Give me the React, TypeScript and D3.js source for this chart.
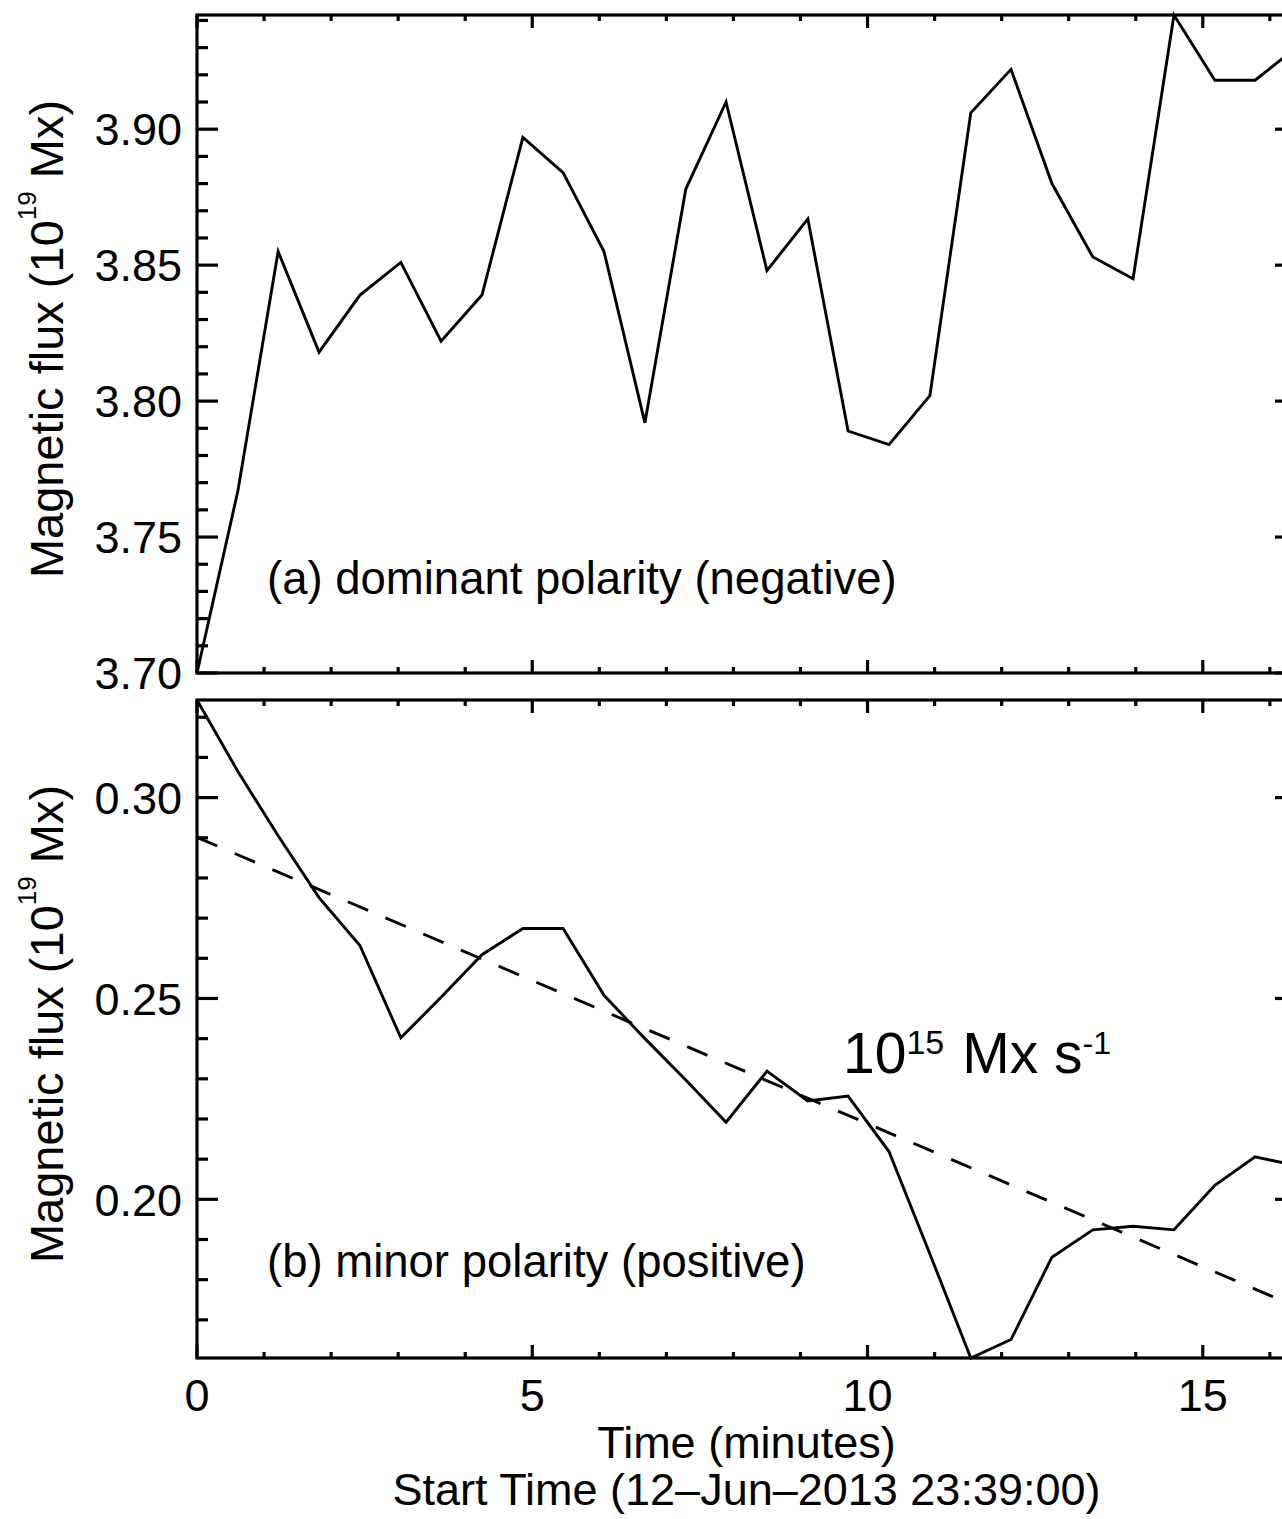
import React from "react";
import * as d3 from "d3";

// ---- data ----
const times = [0, 0.61, 1.21, 1.82, 2.43, 3.04, 3.64, 4.25, 4.86, 5.46, 6.07, 6.68, 7.29, 7.89,
  8.50, 9.11, 9.71, 10.32, 10.93, 11.54, 12.14, 12.75, 13.36, 13.96, 14.57, 15.18, 15.78, 16.39];

const dominantFlux = [3.700, 3.767, 3.855, 3.818, 3.839, 3.851, 3.822, 3.839, 3.897, 3.884,
  3.855, 3.792, 3.878, 3.910, 3.848, 3.867, 3.789, 3.784, 3.802, 3.906, 3.922, 3.880, 3.853,
  3.845, 3.942, 3.918, 3.918, 3.930];

const minorFlux = [0.3243, 0.3065, 0.2905, 0.2751, 0.2632, 0.2402, 0.2503, 0.2609, 0.2674,
  0.2674, 0.2508, 0.2400, 0.2297, 0.2192, 0.2319, 0.2245, 0.2257, 0.2119, 0.1864, 0.1605,
  0.1651, 0.1856, 0.1924, 0.1933, 0.1924, 0.2035, 0.2106, 0.2084];

const fitTimes = [0, 16.39];
const fitValues = [0.2901, 0.1733];

const xMajorTicks = [0, 5, 10, 15];
const xMinorTicks = [1, 2, 3, 4, 6, 7, 8, 9, 11, 12, 13, 14, 16];
const topMajorTicks = [3.70, 3.75, 3.80, 3.85, 3.90];
const topMinorTicks = [3.71, 3.72, 3.73, 3.74, 3.76, 3.77, 3.78, 3.79, 3.81, 3.82, 3.83, 3.84,
  3.86, 3.87, 3.88, 3.89, 3.91, 3.92, 3.93, 3.94];
const botMajorTicks = [0.20, 0.25, 0.30];
const botMinorTicks = [0.17, 0.18, 0.19, 0.21, 0.22, 0.23, 0.24, 0.26, 0.27, 0.28, 0.29, 0.31, 0.32];

const topDomain = [3.700, 3.942];
const botDomain = [0.1605, 0.3243];

const FONT = "'Liberation Sans', Arial, Helvetica, sans-serif";

type Panel = {
  y0: number; y1: number; domain: number[]; major: number[]; minor: number[];
  values: number[]; label: string; labelY: number; titleY: number;
};

export default function App() {
  const X0 = 197, X1 = 1296;
  const x = d3.scaleLinear().domain([0, 16.39]).range([X0, X1]);

  const panels: Panel[] = [
    { y0: 15, y1: 673, domain: topDomain, major: topMajorTicks, minor: topMinorTicks,
      values: dominantFlux, label: "(a) dominant polarity (negative)", labelY: 594, titleY: 339 },
    { y0: 700, y1: 1358, domain: botDomain, major: botMajorTicks, minor: botMinorTicks,
      values: minorFlux, label: "(b) minor polarity (positive)", labelY: 1277, titleY: 1024 },
  ];

  const sw = 3.2;
  const fmt = d3.format(".2f");

  return (
    <svg width={1282} height={1519} style={{ position: "absolute", left: 0, top: 0, background: "#fff" }}
      fontFamily={FONT}>
      <rect x={0} y={0} width={1282} height={1519} fill="#fff" />
      {panels.map((p, pi) => {
        const y = d3.scaleLinear().domain(p.domain).range([p.y1, p.y0]);
        const line = d3.line<number>().x((_, i) => x(times[i])).y((v) => y(v));
        return (
          <g key={pi}>
            <path d={line(p.values) || ""} fill="none" stroke="#000" strokeWidth={2.9} strokeLinejoin="miter" />
            {pi === 1 && (
              <path
                d={d3.line<number>().x((_, i) => x(fitTimes[i])).y((v) => y(v))(fitValues) || ""}
                fill="none" stroke="#000" strokeWidth={2.9} strokeDasharray="22 19" />
            )}
            {/* frame */}
            <rect x={X0} y={p.y0} width={X1 - X0} height={p.y1 - p.y0} fill="none" stroke="#000" strokeWidth={sw} />
            {/* y ticks */}
            {p.major.map((t) => (
              <g key={"M" + t}>
                <line x1={X0} x2={X0 + 21} y1={y(t)} y2={y(t)} stroke="#000" strokeWidth={sw} />
                <line x1={X1} x2={X1 - 21} y1={y(t)} y2={y(t)} stroke="#000" strokeWidth={sw} />
                <text x={182} y={y(t)} dy="0.36em" textAnchor="end" fontSize={45}>{fmt(t)}</text>
              </g>
            ))}
            {p.minor.map((t) => (
              <g key={"m" + t}>
                <line x1={X0} x2={X0 + 11} y1={y(t)} y2={y(t)} stroke="#000" strokeWidth={sw} />
                <line x1={X1} x2={X1 - 11} y1={y(t)} y2={y(t)} stroke="#000" strokeWidth={sw} />
              </g>
            ))}
            {/* x ticks */}
            {xMajorTicks.map((t) => (
              <g key={"xM" + t}>
                <line x1={x(t)} x2={x(t)} y1={p.y1} y2={p.y1 - 13} stroke="#000" strokeWidth={sw} />
                <line x1={x(t)} x2={x(t)} y1={p.y0} y2={p.y0 + 13} stroke="#000" strokeWidth={sw} />
              </g>
            ))}
            {xMinorTicks.map((t) => (
              <g key={"xm" + t}>
                <line x1={x(t)} x2={x(t)} y1={p.y1} y2={p.y1 - 6} stroke="#000" strokeWidth={sw} />
                <line x1={x(t)} x2={x(t)} y1={p.y0} y2={p.y0 + 6} stroke="#000" strokeWidth={sw} />
              </g>
            ))}
            {/* panel label */}
            <text x={267} y={p.labelY} fontSize={45.5}>{p.label}</text>
            {/* y title */}
            <text transform={`translate(63,${p.titleY}) rotate(-90)`} textAnchor="middle" fontSize={47}>
              Magnetic flux (10<tspan fontSize={26} dy={-27}>19</tspan><tspan dy={27}> Mx)</tspan>
            </text>
          </g>
        );
      })}
      {/* rate annotation */}
      <text x={843} y={1073} fontSize={57}>
        10<tspan fontSize={34} dy={-19}>15</tspan><tspan dx={18} dy={19}>Mx s</tspan><tspan fontSize={32} dy={-19}>-1</tspan>
      </text>
      {/* x tick labels */}
      {xMajorTicks.map((t) => (
        <text key={"xl" + t} x={x(t)} y={1411} textAnchor="middle" fontSize={45}>{t}</text>
      ))}
      <text x={x(8.195)} y={1458} textAnchor="middle" fontSize={45}>Time (minutes)</text>
      <text x={x(8.195)} y={1505} textAnchor="middle" fontSize={45}>Start Time (12–Jun–2013 23:39:00)</text>
    </svg>
  );
}
